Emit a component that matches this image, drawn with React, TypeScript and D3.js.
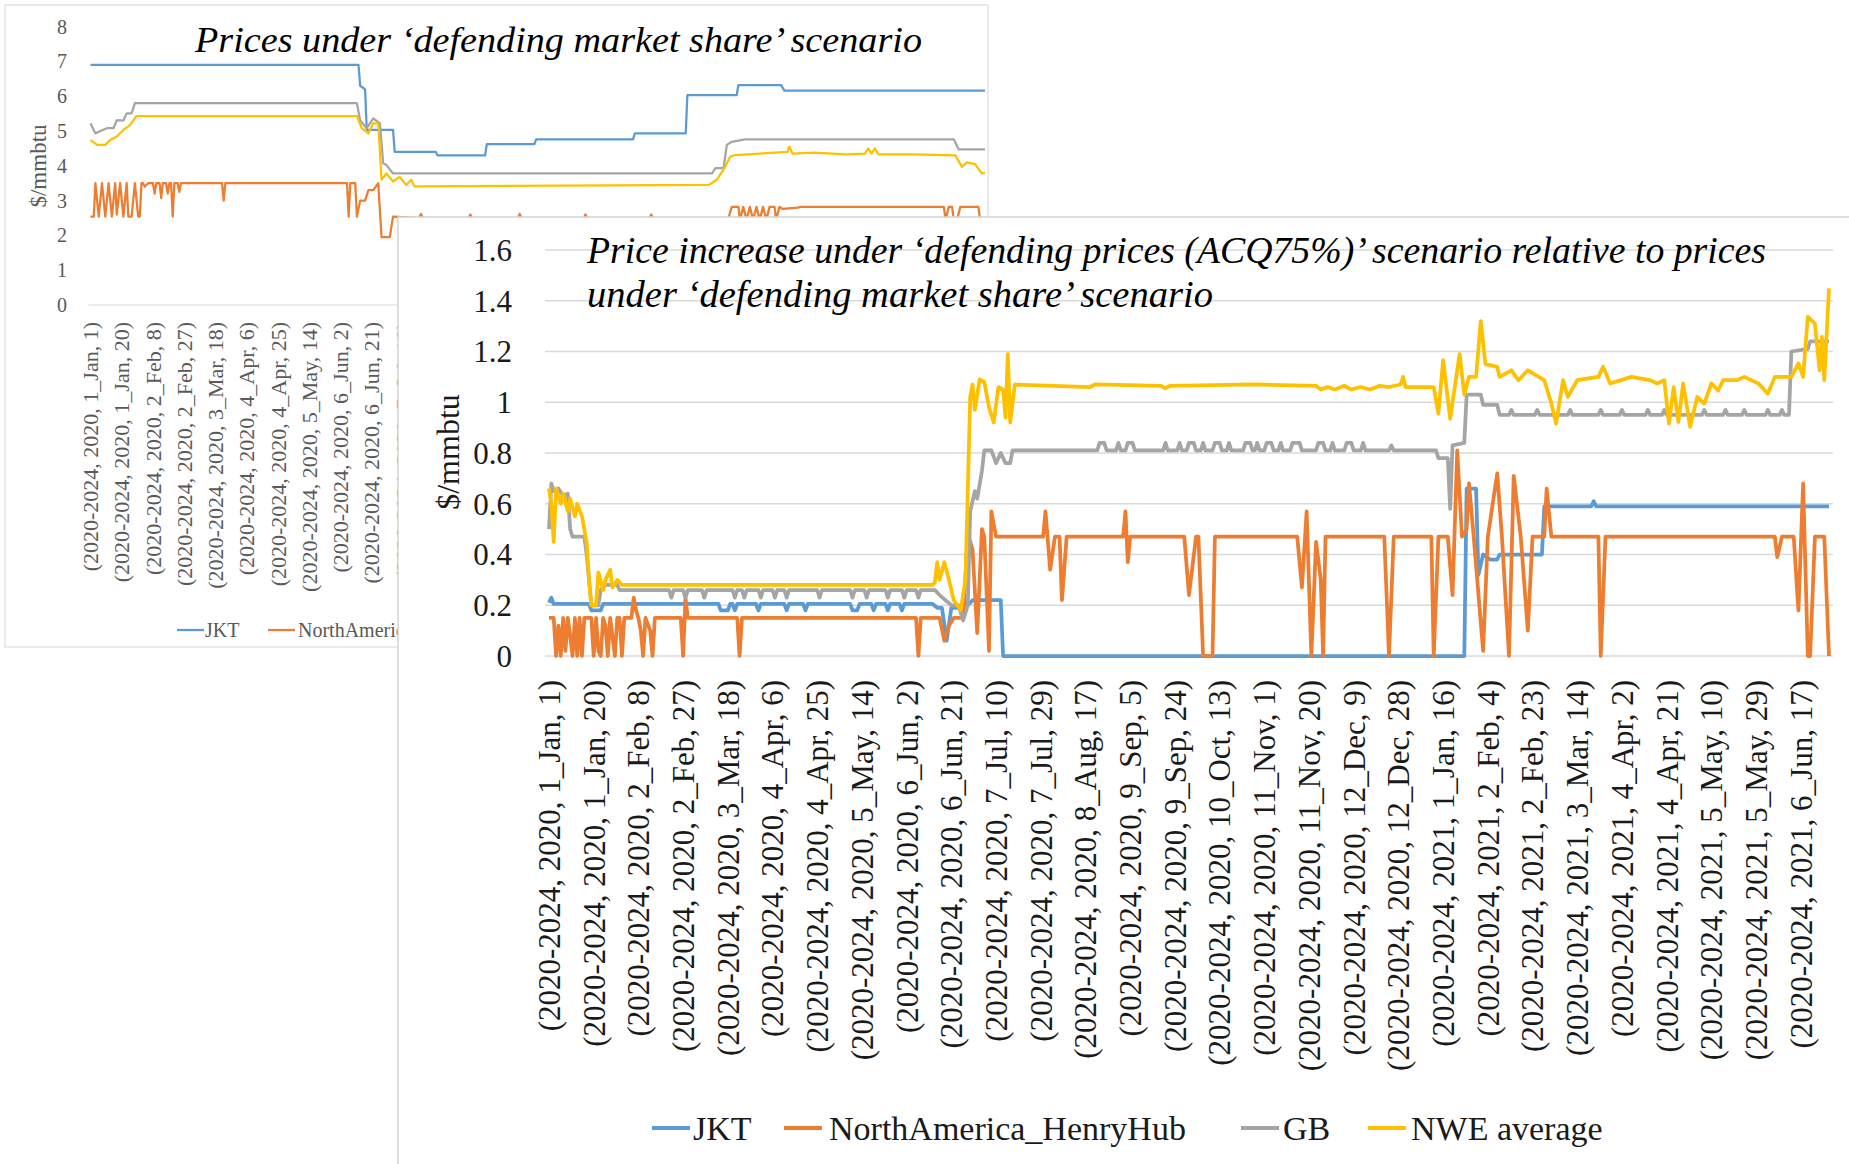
import React, { useMemo } from 'react';
import * as d3 from 'd3';

const W = 1849;
const H = 1164;
const SERIF = "'Liberation Serif', 'Times New Roman', serif";

const SERIES_NAMES = ['JKT', 'NorthAmerica_HenryHub', 'GB', 'NWE average'];
const SERIES_COLORS = ['#5B9BD5', '#ED7D31', '#A5A5A5', '#FFC000'];

// category labels, one every 19 days starting 1 Jan 2020
const TICK_LABELS = [
  '(2020-2024, 2020, 1_Jan, 1)',
  '(2020-2024, 2020, 1_Jan, 20)',
  '(2020-2024, 2020, 2_Feb, 8)',
  '(2020-2024, 2020, 2_Feb, 27)',
  '(2020-2024, 2020, 3_Mar, 18)',
  '(2020-2024, 2020, 4_Apr, 6)',
  '(2020-2024, 2020, 4_Apr, 25)',
  '(2020-2024, 2020, 5_May, 14)',
  '(2020-2024, 2020, 6_Jun, 2)',
  '(2020-2024, 2020, 6_Jun, 21)',
  '(2020-2024, 2020, 7_Jul, 10)',
  '(2020-2024, 2020, 7_Jul, 29)',
  '(2020-2024, 2020, 8_Aug, 17)',
  '(2020-2024, 2020, 9_Sep, 5)',
  '(2020-2024, 2020, 9_Sep, 24)',
  '(2020-2024, 2020, 10_Oct, 13)',
  '(2020-2024, 2020, 11_Nov, 1)',
  '(2020-2024, 2020, 11_Nov, 20)',
  '(2020-2024, 2020, 12_Dec, 9)',
  '(2020-2024, 2020, 12_Dec, 28)',
  '(2020-2024, 2021, 1_Jan, 16)',
  '(2020-2024, 2021, 2_Feb, 4)',
  '(2020-2024, 2021, 2_Feb, 23)',
  '(2020-2024, 2021, 3_Mar, 14)',
  '(2020-2024, 2021, 4_Apr, 2)',
  '(2020-2024, 2021, 4_Apr, 21)',
  '(2020-2024, 2021, 5_May, 10)',
  '(2020-2024, 2021, 5_May, 29)',
  '(2020-2024, 2021, 6_Jun, 17)',
];
const TICK_STEP = 19;
const LAST_DAY = 544;

const BG_TICKS = [0, 1, 2, 3, 4, 5, 6, 7, 8];
const FG_TICKS = [0, 0.2, 0.4, 0.6, 0.8, 1, 1.2, 1.4, 1.6];

// back chart: prices under 'defending market share', [day, $/mmbtu]
const BG_JKT = [
  [0, 6.9], [163, 6.9], [164, 6.3], [167, 6.2], [168, 5.03], [184, 5.03], [185, 4.4], [210, 4.4],
  [211, 4.3], [240, 4.3], [241, 4.62], [270, 4.62], [271, 4.76], [330, 4.76], [331, 4.93], [362, 4.93],
  [363, 6.03], [393, 6.03], [394, 6.32], [420, 6.32], [422, 6.16], [544, 6.16],
];
const BG_HH = [
  [0, 2.54], [2, 2.54], [3, 3.5], [5, 2.54], [7, 3.5], [9, 2.54], [11, 3.5], [13, 2.54], [15, 3.5],
  [16, 2.6], [18, 3.5], [20, 2.54], [22, 3.5], [23, 2.54], [25, 2.54], [27, 3.5], [29, 2.54], [30, 2.54],
  [31, 3.5], [32, 3.5], [33, 3.4], [35, 3.5], [38, 3.5], [39, 3.2], [40, 3.5], [42, 3.5], [43, 3.07],
  [44, 3.5], [46, 3.5], [47, 3.2], [48, 3.5], [49, 3.5], [50, 2.54], [51, 3.5], [53, 3.5], [54, 3.25],
  [55, 3.5], [80, 3.5], [81, 3.0], [82, 3.5], [156, 3.5], [157, 2.54], [158, 3.5], [161, 3.5],
  [162, 2.54], [164, 3.0], [167, 3.0], [169, 3.3], [172, 3.3], [175, 3.5], [177, 1.95], [182, 1.95],
  [184, 2.54], [200, 2.5], [201, 2.62], [202, 2.5], [230, 2.5], [231, 2.6], [232, 2.5], [260, 2.5],
  [261, 2.62], [262, 2.5], [300, 2.5], [301, 2.6], [302, 2.5], [340, 2.5], [341, 2.6], [342, 2.5],
  [388, 2.5], [390, 2.82], [394, 2.82], [395, 2.45], [397, 2.82], [399, 2.45], [401, 2.82], [403, 2.45],
  [405, 2.82], [407, 2.45], [409, 2.82], [411, 2.45], [413, 2.82], [416, 2.82], [417, 2.45], [419, 2.82],
  [421, 2.76], [430, 2.8], [432, 2.82], [519, 2.82], [520, 2.45], [522, 2.82], [524, 2.82], [525, 2.45],
  [527, 2.45], [529, 2.82], [540, 2.82], [541, 2.45], [544, 2.5],
];
const BG_GB = [
  [0, 5.22], [3, 4.93], [6, 5.0], [10, 5.08], [14, 5.08], [16, 5.31], [20, 5.3], [22, 5.51], [25, 5.51],
  [27, 5.8], [162, 5.8], [164, 5.3], [168, 5.08], [172, 5.36], [176, 5.22], [178, 4.07], [180, 4.02],
  [184, 3.78], [378, 3.78], [380, 3.93], [385, 3.93], [387, 4.6], [390, 4.69], [398, 4.76], [525, 4.76],
  [528, 4.47], [544, 4.47],
];
const BG_NWE = [
  [0, 4.74], [4, 4.6], [9, 4.6], [12, 4.74], [16, 4.84], [20, 5.03], [24, 5.17], [28, 5.43], [162, 5.43],
  [165, 5.08], [169, 4.93], [172, 5.22], [175, 5.22], [177, 3.6], [180, 3.78], [184, 3.55], [188, 3.68],
  [192, 3.45], [195, 3.6], [197, 3.41], [376, 3.45], [381, 3.6], [386, 3.97], [389, 4.26], [392, 4.31],
  [424, 4.4], [425, 4.55], [427, 4.35], [440, 4.38], [460, 4.33], [471, 4.35], [473, 4.5], [475, 4.35],
  [477, 4.5], [479, 4.33], [500, 4.33], [526, 4.3], [530, 3.97], [533, 4.1], [538, 4.05], [542, 3.78],
  [544, 3.8],
];

// front chart: price increase under 'defending prices (ACQ75%)', [day, $/mmbtu]
const FG_JKT = [
  [0, 0.21], [1, 0.23], [2, 0.205], [17, 0.205], [18, 0.18], [22, 0.18], [23, 0.205], [72, 0.205],
  [73, 0.18], [76, 0.18], [77, 0.205], [78, 0.205], [79, 0.18], [80, 0.205], [88, 0.205], [89, 0.18],
  [90, 0.205], [100, 0.205], [101, 0.18], [102, 0.205], [108, 0.205], [109, 0.18], [110, 0.205],
  [128, 0.205], [129, 0.18], [131, 0.18], [132, 0.205], [137, 0.205], [138, 0.18], [139, 0.205],
  [143, 0.205], [144, 0.18], [145, 0.205], [149, 0.205], [150, 0.18], [151, 0.205], [163, 0.205],
  [165, 0.19], [167, 0.19], [169, 0.06], [171, 0.19], [176, 0.19], [177, 0.22], [178, 0.2], [180, 0.22],
  [192, 0.22], [193, 0], [389, 0], [390, 0.66], [394, 0.66], [395, 0.32], [397, 0.4], [400, 0.38],
  [403, 0.38], [404, 0.4], [422, 0.4], [423, 0.59], [443, 0.59], [444, 0.61], [445, 0.59], [544, 0.59],
];
const FG_HH = [
  [0, 0.15], [2, 0.15], [3, 0], [4, 0.12], [5, 0], [6, 0.15], [7, 0.02], [8, 0.15], [9, 0.08], [10, 0],
  [11, 0.15], [12, 0], [13, 0.15], [14, 0], [15, 0.15], [18, 0.15], [19, 0], [20, 0.15], [21, 0.02],
  [22, 0], [23, 0.15], [24, 0.12], [25, 0], [26, 0.15], [28, 0], [29, 0.15], [30, 0.15], [31, 0],
  [32, 0.15], [35, 0.15], [36, 0.23], [37, 0.18], [38, 0.15], [39, 0.1], [40, 0], [41, 0.15], [43, 0.1],
  [44, 0], [45, 0.15], [56, 0.15], [57, 0], [58, 0.23], [59, 0.15], [80, 0.15], [81, 0], [82, 0.15],
  [156, 0.15], [157, 0], [158, 0.15], [166, 0.15], [168, 0.06], [170, 0.12], [172, 0.15], [176, 0.15],
  [178, 0.48], [180, 0.42], [182, 0.09], [184, 0.5], [185, 0.47], [187, 0.02], [188, 0.57], [190, 0.47],
  [210, 0.47], [211, 0.57], [213, 0.34], [215, 0.47], [217, 0.47], [218, 0.22], [220, 0.47], [244, 0.47],
  [245, 0.57], [246, 0.37], [247, 0.47], [270, 0.47], [272, 0.24], [275, 0.47], [276, 0.47], [278, 0],
  [282, 0], [283, 0.47], [318, 0.47], [320, 0.27], [322, 0.57], [324, 0], [326, 0.45], [328, 0.3],
  [329, 0], [330, 0.47], [355, 0.47], [357, 0], [359, 0.47], [375, 0.47], [376, 0], [378, 0.47],
  [382, 0.47], [384, 0.24], [386, 0.81], [388, 0.47], [390, 0.5], [391, 0.68], [393, 0.47], [397, 0.02],
  [399, 0.47], [403, 0.72], [405, 0.47], [408, 0], [410, 0.71], [413, 0.47], [416, 0.1], [418, 0.47],
  [423, 0.47], [424, 0.66], [426, 0.47], [446, 0.47], [447, 0], [449, 0.47], [521, 0.47], [522, 0.39],
  [524, 0.47], [529, 0.47], [531, 0.18], [533, 0.68], [535, 0], [536, 0], [538, 0.47], [542, 0.47],
  [544, 0],
];
const FG_GB = [
  [0, 0.5], [1, 0.68], [2, 0.65], [4, 0.66], [6, 0.63], [8, 0.64], [9, 0.5], [10, 0.47], [15, 0.47],
  [16, 0.4], [18, 0.2], [21, 0.2], [22, 0.26], [24, 0.28], [29, 0.28], [30, 0.26],
  [51, 0.26], [52, 0.23], [53, 0.26], [57, 0.26], [58, 0.23], [59, 0.26], [65, 0.26], [66, 0.23],
  [67, 0.26], [78, 0.26], [79, 0.23], [80, 0.26], [82, 0.26], [83, 0.23], [84, 0.26], [89, 0.26],
  [90, 0.23], [91, 0.26], [95, 0.26], [96, 0.23], [97, 0.26], [100, 0.26], [101, 0.23], [102, 0.26],
  [114, 0.26], [115, 0.23], [116, 0.26], [128, 0.26], [129, 0.23], [130, 0.26], [134, 0.26], [135, 0.23],
  [136, 0.26], [143, 0.26], [144, 0.23], [145, 0.26], [150, 0.26], [151, 0.23], [152, 0.26], [156, 0.26],
  [157, 0.23], [158, 0.26], [164, 0.26], [166, 0.24], [171, 0.2], [174, 0.2], [176, 0.14], [178, 0.2],
  [179, 0.57], [181, 0.65], [182, 0.62], [184, 0.73], [185, 0.81], [188, 0.81], [190, 0.76], [192, 0.8],
  [194, 0.76], [196, 0.76], [197, 0.81],
  [233, 0.81], [234, 0.84], [236, 0.84], [237, 0.81], [241, 0.81], [242, 0.84], [243, 0.81], [245, 0.81],
  [246, 0.84], [248, 0.84], [249, 0.81], [261, 0.81], [262, 0.84], [263, 0.81], [267, 0.81], [268, 0.84],
  [269, 0.81], [271, 0.81], [272, 0.84], [274, 0.84], [275, 0.81], [277, 0.81], [278, 0.84], [279, 0.81],
  [282, 0.81], [283, 0.84], [285, 0.84], [286, 0.81], [288, 0.81], [289, 0.84], [290, 0.81], [295, 0.81],
  [296, 0.84], [298, 0.84], [299, 0.81], [300, 0.81], [301, 0.84], [302, 0.81], [304, 0.81], [305, 0.84],
  [307, 0.84], [308, 0.81], [310, 0.81], [311, 0.84], [312, 0.81], [315, 0.81], [316, 0.84], [319, 0.84],
  [320, 0.81], [326, 0.81], [327, 0.84], [329, 0.84], [330, 0.81], [332, 0.81], [333, 0.84], [334, 0.81],
  [338, 0.81], [339, 0.84], [341, 0.84], [342, 0.81], [345, 0.81], [346, 0.84], [347, 0.81], [357, 0.81],
  [358, 0.83], [359, 0.81],
  [377, 0.81], [378, 0.78], [382, 0.78], [383, 0.58], [384, 0.83], [389, 0.84], [390, 1.03], [396, 1.03],
  [397, 0.99], [403, 0.99], [404, 0.95], [408, 0.95], [409, 0.97], [410, 0.95], [419, 0.95], [420, 0.97],
  [421, 0.95], [433, 0.95], [434, 0.97], [435, 0.95], [446, 0.95], [447, 0.97], [448, 0.95], [455, 0.95],
  [456, 0.97], [457, 0.95], [466, 0.95], [467, 0.97], [468, 0.95], [473, 0.95], [474, 0.97], [475, 0.95],
  [490, 0.95], [491, 0.97], [492, 0.95], [499, 0.95], [500, 0.97], [501, 0.95], [507, 0.95], [508, 0.97],
  [509, 0.95], [517, 0.95], [518, 0.97], [519, 0.95], [523, 0.95], [524, 0.97], [525, 0.95], [527, 0.95],
  [528, 1.2], [535, 1.21], [536, 1.24], [544, 1.24],
];
const FG_NWE = [
  [0, 0.66], [1, 0.6], [2, 0.45], [3, 0.66], [5, 0.6], [6, 0.64], [8, 0.57], [9, 0.62], [11, 0.55],
  [12, 0.6], [14, 0.55], [16, 0.45], [17, 0.3], [18, 0.2], [20, 0.2], [21, 0.33], [23, 0.26], [24, 0.3],
  [26, 0.34], [27, 0.27], [29, 0.3], [31, 0.28], [163, 0.28], [164, 0.29], [165, 0.37], [166, 0.3],
  [168, 0.37], [170, 0.3], [172, 0.22], [175, 0.18], [177, 0.3], [179, 1.02], [180, 1.07], [181, 0.97],
  [183, 1.09], [185, 1.08], [187, 0.98], [189, 0.92], [191, 1.06], [193, 1.05], [194, 0.94], [195, 1.19],
  [196, 0.92], [198, 1.07], [230, 1.06], [232, 1.07], [260, 1.065], [262, 1.055], [264, 1.065],
  [300, 1.07], [326, 1.065], [328, 1.05], [331, 1.06], [334, 1.05], [338, 1.065], [341, 1.05],
  [345, 1.06], [349, 1.05], [353, 1.065], [357, 1.06], [362, 1.07], [363, 1.1], [364, 1.06], [376, 1.06],
  [378, 0.955], [380, 1.166], [383, 0.935], [387, 1.19], [389, 1.03], [391, 1.1], [394, 1.1], [396, 1.32],
  [398, 1.15], [403, 1.14], [404, 1.1], [409, 1.126], [412, 1.087], [416, 1.126], [423, 1.087],
  [426, 0.995], [428, 0.916], [431, 1.087], [433, 1.021], [437, 1.087], [446, 1.1], [448, 1.14],
  [451, 1.074], [460, 1.1], [468, 1.087], [471, 1.074], [474, 1.087], [476, 0.916], [478, 1.06],
  [480, 0.922], [482, 1.074], [485, 0.903], [488, 1.021], [491, 0.995], [494, 1.074], [497, 1.047],
  [499, 1.087], [505, 1.087], [508, 1.1], [514, 1.074], [518, 1.034], [521, 1.1], [528, 1.1],
  [531, 1.153], [533, 1.1], [535, 1.337], [538, 1.31], [540, 1.126], [541, 1.258], [542, 1.087],
  [544, 1.449],
];

const BG_SERIES = [BG_JKT, BG_HH, BG_GB, BG_NWE];
const FG_SERIES = [FG_JKT, FG_HH, FG_GB, FG_NWE];

// legend item x positions (marker start, text start)
const FG_LEGEND = [[652, 693], [784, 829], [1241, 1283], [1368, 1411]];
const BG_LEGEND = [[177, 205], [268, 298], [540, 570], [620, 650]];

// front panel corner; the back chart is hidden behind it
const PANEL_X = 398;
const PANEL_Y = 217;

const Back = () => {
  const x = useMemo(() => d3.scaleLinear().domain([0, LAST_DAY]).range([90.5, 985]), []);
  const y = useMemo(() => d3.scaleLinear().domain([0, 8]).range([305, 26.6]), []);
  const line = d3.line<number[]>().x((d) => x(d[0])).y((d) => y(d[1]));
  return (
    <g clipPath="url(#backClip)">
      <rect x={5} y={5} width={983} height={642} fill="#fff" stroke="#e4e4e4" strokeWidth={1.5} />
      <line x1={x(0) - 2} x2={x(LAST_DAY) + 2} y1={y(0)} y2={y(0)} stroke="#e6e6e6" strokeWidth={1.5} />
      {BG_TICKS.map((t) => (
        <text key={t} x={67} y={y(t)} dy="0.35em" textAnchor="end" fontFamily={SERIF} fontSize={20} fill="#595959">
          {t}
        </text>
      ))}
      <text transform="translate(38,166) rotate(-90)" dy="0.35em" textAnchor="middle" fontFamily={SERIF} fontSize={23} fill="#595959">
        $/mmbtu
      </text>
      {BG_SERIES.map((s, i) => (
        <path key={i} d={line(s)} fill="none" stroke={SERIES_COLORS[i]} strokeWidth={2.25} strokeLinejoin="round" />
      ))}
      {TICK_LABELS.map((l, i) => (
        <text
          key={l}
          transform={`translate(${x(i * TICK_STEP)},322) rotate(-90)`}
          dy="0.35em"
          textAnchor="end"
          fontFamily={SERIF}
          fontSize={22}
          fill="#595959"
        >
          {l}
        </text>
      ))}
      <text x={195} y={52} fontFamily={SERIF} fontStyle="italic" fontSize={35} textLength={727} lengthAdjust="spacingAndGlyphs">
        Prices under ‘defending market share’ scenario
      </text>
      {SERIES_NAMES.map((n, i) => (
        <g key={n}>
          <line x1={BG_LEGEND[i][0]} x2={BG_LEGEND[i][0] + 27} y1={630} y2={630} stroke={SERIES_COLORS[i]} strokeWidth={2.25} />
          <text x={BG_LEGEND[i][1]} y={637} fontFamily={SERIF} fontSize={20} fill="#595959">
            {n}
          </text>
        </g>
      ))}
    </g>
  );
};

const Front = () => {
  const x = useMemo(() => d3.scaleLinear().domain([0, LAST_DAY]).range([549, 1829]), []);
  const y = useMemo(() => d3.scaleLinear().domain([0, 1.6]).range([656, 250]), []);
  const line = d3.line<number[]>().x((d) => x(d[0])).y((d) => y(d[1]));
  return (
    <g>
      <rect x={PANEL_X} y={PANEL_Y} width={W - PANEL_X + 4} height={H - PANEL_Y + 4} fill="#fff" stroke="#d4d4d4" strokeWidth={1.5} />
      {FG_TICKS.map((t) => (
        <line key={t} x1={545} x2={1833} y1={y(t)} y2={y(t)} stroke="#d9d9d9" strokeWidth={1.5} />
      ))}
      {FG_TICKS.map((t) => (
        <text key={t} x={512} y={y(t)} dy="0.35em" textAnchor="end" fontFamily={SERIF} fontSize={31} fill="#1a1a1a">
          {t}
        </text>
      ))}
      <text transform="translate(448,452) rotate(-90)" dy="0.35em" textAnchor="middle" fontFamily={SERIF} fontSize={32} fill="#1a1a1a">
        $/mmbtu
      </text>
      <text x={587} y={263} fontFamily={SERIF} fontStyle="italic" fontSize={38} textLength={1179} lengthAdjust="spacingAndGlyphs">
        Price increase under ‘defending prices (ACQ75%)’ scenario relative to prices
      </text>
      <text x={587} y={307} fontFamily={SERIF} fontStyle="italic" fontSize={38} textLength={626} lengthAdjust="spacingAndGlyphs">
        under ‘defending market share’ scenario
      </text>
      {FG_SERIES.map((s, i) => (
        <path key={i} d={line(s)} fill="none" stroke={SERIES_COLORS[i]} strokeWidth={3.75} strokeLinejoin="round" />
      ))}
      {TICK_LABELS.map((l, i) => (
        <text
          key={l}
          transform={`translate(${x(i * TICK_STEP)},680) rotate(-90)`}
          dy="0.35em"
          textAnchor="end"
          fontFamily={SERIF}
          fontSize={31}
          fill="#1a1a1a"
        >
          {l}
        </text>
      ))}
      {SERIES_NAMES.map((n, i) => (
        <g key={n}>
          <line x1={FG_LEGEND[i][0]} x2={FG_LEGEND[i][0] + 38} y1={1128} y2={1128} stroke={SERIES_COLORS[i]} strokeWidth={4} />
          <text x={FG_LEGEND[i][1]} y={1140} fontFamily={SERIF} fontSize={34} fill="#1a1a1a">
            {n}
          </text>
        </g>
      ))}
    </g>
  );
};

export default function App() {
  return (
    <svg width={W} height={H} style={{ position: 'absolute', left: 0, top: 0, background: '#fff' }}>
      <defs>
        <clipPath id="backClip">
          <path d={`M0,0H${W}V${PANEL_Y}H${PANEL_X}V${H}H0Z`} />
        </clipPath>
      </defs>
      <rect width={W} height={H} fill="#fff" />
      <Back />
      <Front />
    </svg>
  );
}
